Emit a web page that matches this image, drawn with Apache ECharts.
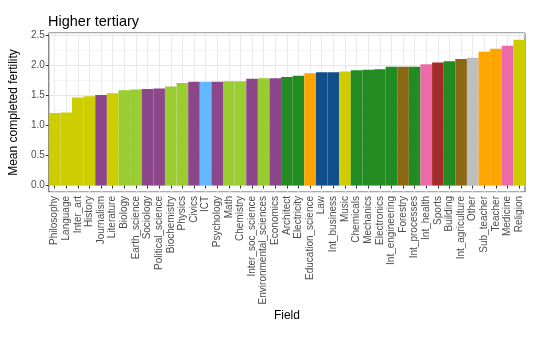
<!DOCTYPE html>
<html>
<head>
<meta charset="utf-8">
<script src="https://cdn.jsdelivr.net/npm/echarts@6/dist/echarts.min.js"></script>
<style>
  html, body { margin: 0; padding: 0; background: #fff; }
  #chart { width: 547px; height: 337px; }
</style>
</head>
<body>
<div id="chart"></div>
<script>
// Fields of study, ordered by mean completed fertility
const fields = [
  'Philosophy', 'Language', 'Inter_art', 'History', 'Journalism', 'Literature',
  'Biology', 'Earth_science', 'Sociology', 'Political_science', 'Biochemistry',
  'Physics', 'Civics', 'ICT', 'Psychology', 'Math', 'Chemistry',
  'Inter_soc_science', 'Environmental_sciences', 'Economics', 'Architect',
  'Electricity', 'Education_science', 'Law', 'Int_business', 'Music',
  'Chemicals', 'Mechanics', 'Electronics', 'Int_engineering', 'Forestry',
  'Int_processes', 'Int_health', 'Sports', 'Building', 'Int_agriculture',
  'Other', 'Sub_teacher', 'Teacher', 'Medicine', 'Religion'
];

// Mean completed fertility per field
const fertility = [
  1.20, 1.21, 1.46, 1.48, 1.50, 1.53,
  1.58, 1.59, 1.60, 1.61, 1.64,
  1.70, 1.72, 1.72, 1.72, 1.73, 1.73,
  1.77, 1.78, 1.78, 1.80,
  1.82, 1.86, 1.88, 1.88, 1.89,
  1.91, 1.92, 1.93, 1.97, 1.97,
  1.97, 2.01, 2.04, 2.06, 2.10,
  2.12, 2.22, 2.27, 2.32, 2.42
];

// Fill colour of each field's bar (by field group)
const fieldColors = [
  '#CDCD00', '#CDCD00', '#CDCD00', '#CDCD00', '#8B4789', '#CDCD00',
  '#9ACD32', '#9ACD32', '#8B4789', '#8B4789', '#9ACD32',
  '#9ACD32', '#8B4789', '#63B8FF', '#8B4789', '#9ACD32', '#9ACD32',
  '#8B4789', '#9ACD32', '#8B4789', '#228B22',
  '#228B22', '#FFA500', '#104E8B', '#104E8B', '#CDCD00',
  '#228B22', '#228B22', '#228B22', '#228B22', '#8B6914',
  '#228B22', '#EE6AA7', '#A52A2A', '#228B22', '#8B6914',
  '#BEBEBE', '#FFA500', '#FFA500', '#EE6AA7', '#CDCD00'
];

const FONT = '"Liberation Sans", Arial, sans-serif';

const chart = echarts.init(document.getElementById('chart'), null, { renderer: 'canvas' });

chart.setOption({
  animation: false,
  backgroundColor: '#ffffff',
  title: {
    text: 'Higher tertiary',
    left: 43,
    top: 9,
    textStyle: { fontFamily: FONT, fontSize: 14.5, fontWeight: 'normal', color: '#000' }
  },
  grid: {
    left: 44,
    right: 22,
    top: 33,
    bottom: 145,
    show: true,
    borderColor: '#555',
    borderWidth: 1,
    backgroundColor: '#fff'
  },
  xAxis: {
    type: 'category',
    data: fields,
    boundaryGap: true,
    name: 'Field',
    nameLocation: 'middle',
    nameGap: 118,
    nameTextStyle: { fontFamily: FONT, fontSize: 12, color: '#000' },
    axisLine: { show: false },
    axisTick: { show: true, alignWithLabel: true, length: 3, lineStyle: { color: '#333' } },
    axisLabel: {
      interval: 0,
      rotate: 90,
      margin: 4,
      fontFamily: FONT,
      fontSize: 10,
      color: '#4D4D4D'
    },
    splitLine: { show: true, interval: 0, alignWithLabel: true, lineStyle: { color: '#EBEBEB', width: 1 } }
  },
  yAxis: {
    type: 'value',
    min: -0.11,
    max: 2.53,
    splitNumber: 5,
    name: 'Mean completed fertility',
    nameLocation: 'middle',
    nameGap: 20,
    nameTextStyle: { fontFamily: FONT, fontSize: 12, color: '#000' },
    axisLine: { show: false },
    axisTick: { show: true, length: 3, lineStyle: { color: '#333' } },
    axisLabel: {
      showMinLabel: false,
      showMaxLabel: false,
      margin: 4,
      fontFamily: FONT,
      fontSize: 10,
      color: '#4D4D4D',
      formatter: (v) => v.toFixed(1)
    },
    splitLine: { show: true, lineStyle: { color: '#E6E6E6', width: 1 } },
    minorTick: { show: false, splitNumber: 2 },
    minorSplitLine: { show: true, lineStyle: { color: '#F2F2F2', width: 0.6 } }
  },
  series: [{
    type: 'bar',
    barWidth: '100%',
    barCategoryGap: '0%',
    data: fertility.map((v, i) => ({ value: v, itemStyle: { color: fieldColors[i] } }))
  }]
});
</script>
</body>
</html>
